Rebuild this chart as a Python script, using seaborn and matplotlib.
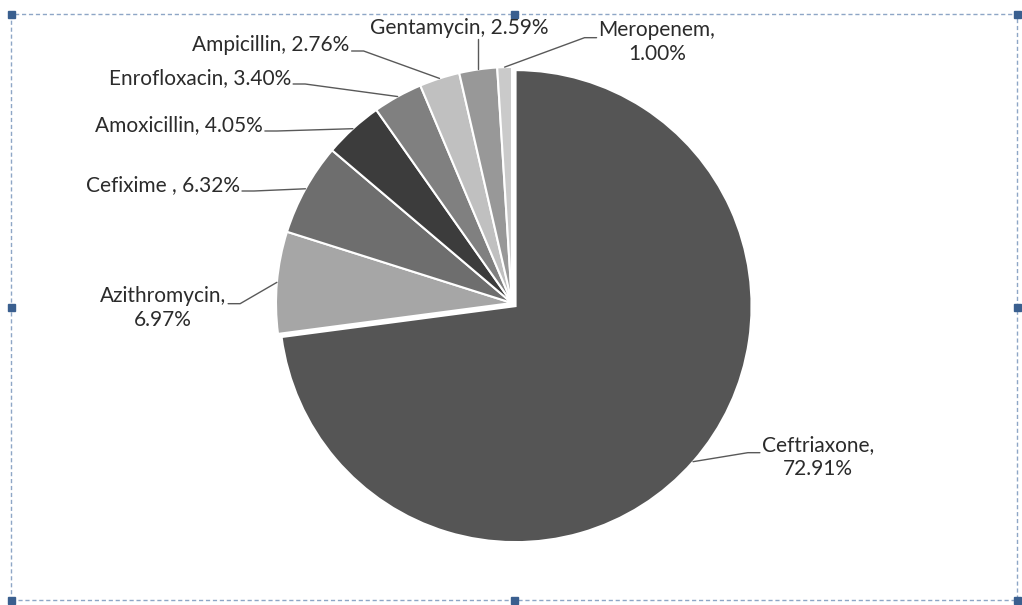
import matplotlib
matplotlib.use("Agg")
import matplotlib.pyplot as plt
import seaborn as sns
import numpy as np
from matplotlib.patches import Rectangle
from matplotlib.lines import Line2D

sns.set_theme(style="white")
plt.rcParams['font.family'] = ['Lato', 'DejaVu Sans']

# ---- data ----
drugs = ["Ceftriaxone", "Azithromycin", "Cefixime ", "Amoxicillin", "Enrofloxacin",
         "Ampicillin", "Gentamycin", "Meropenem"]
shares = [72.91, 6.97, 6.32, 4.05, 3.40, 2.76, 2.59, 1.00]
label_text = ["Ceftriaxone,\n72.91%", "Azithromycin,\n6.97%", "Cefixime , 6.32%",
              "Amoxicillin, 4.05%", "Enrofloxacin, 3.40%", "Ampicillin, 2.76%",
              "Gentamycin, 2.59%", "Meropenem,\n1.00%"]
slice_colors = ["#555555", "#a6a6a6", "#6e6e6e", "#3c3c3c", "#808080",
                "#c0c0c0", "#989898", "#cacaca"]

# ---- layout (image pixel positions of label centres, leader side) ----
W, H = 1022, 605
label_pos = [(818, 457), (163, 308), (163, 185), (179, 125), (200, 78),
             (271, 45), (459, 28), (657, 42)]
leader_side = ["left", "right", "right", "right", "right", "right", "bottom", "left"]
explode = [0.02, 0, 0, 0, 0, 0, 0, 0]

fig = plt.figure(figsize=(W / 100, H / 100), dpi=100)
cx, cy, R = 512, 303, 236
half = 1.25 * R
ax = fig.add_axes([(cx - half) / W, (H - cy - half) / H, 2 * half / W, 2 * half / H])

wedges, _ = ax.pie(shares, colors=slice_colors, startangle=90, counterclock=False,
                   explode=explode, radius=1.0,
                   wedgeprops=dict(edgecolor="white", linewidth=1.5))
ax.set_xlim(-1.25, 1.25)
ax.set_ylim(-1.25, 1.25)
ax.set_aspect("equal")
ax.axis("off")

texts = []
for txt, (lx, ly) in zip(label_text, label_pos):
    t = fig.text(lx / W, 1 - ly / H, txt, ha="center", va="center", fontsize=15,
                 color="#2b2b2b", linespacing=1.2)
    texts.append(t)

fig.canvas.draw()
r = fig.canvas.get_renderer()
for w, t, side in zip(wedges, texts, leader_side):
    ang = np.deg2rad((w.theta1 + w.theta2) / 2)
    cxw, cyw = w.center
    px, py = ax.transData.transform((cxw + np.cos(ang) * w.r, cyw + np.sin(ang) * w.r))
    bb = t.get_window_extent(r)
    nlines = t.get_text().count("\n") + 1
    lh = bb.height / nlines
    sy = bb.y1 - lh * 0.8
    if side == "right":
        sx = bb.x1 + 2
        pts = [(sx, sy), (sx + 12, sy), (px, py)]
    elif side == "left":
        sx = bb.x0 - 2
        pts = [(sx, sy), (sx - 12, sy), (px, py)]
    else:
        pts = [(px, bb.y0 - 1), (px, py)]
    xs = [p[0] / W for p in pts]
    ys = [p[1] / H for p in pts]
    fig.add_artist(Line2D(xs, ys, transform=fig.transFigure, color="#595959", lw=1.0))

# ---- selection frame decoration ----
x0, y0, x1, y1 = 11, 14, 1017, 600
frame = Rectangle((x0 / W, 1 - y1 / H), (x1 - x0) / W, (y1 - y0) / H,
                  transform=fig.transFigure, fill=False, edgecolor="#8ea6c6",
                  linestyle=(0, (3, 2)), linewidth=1.0)
fig.patches.append(frame)
hs = 7
for hx in (x0, (x0 + x1) / 2, x1):
    for hy in (y0, (y0 + y1) / 2, y1):
        if hx == (x0 + x1) / 2 and hy == (y0 + y1) / 2:
            continue
        fig.patches.append(Rectangle(((hx - hs / 2) / W, 1 - (hy + hs / 2) / H),
                                     hs / W, hs / H, transform=fig.transFigure,
                                     facecolor="#3a5f8f", edgecolor="#3a5f8f"))

fig.savefig("out.png", dpi=100, facecolor="white")
